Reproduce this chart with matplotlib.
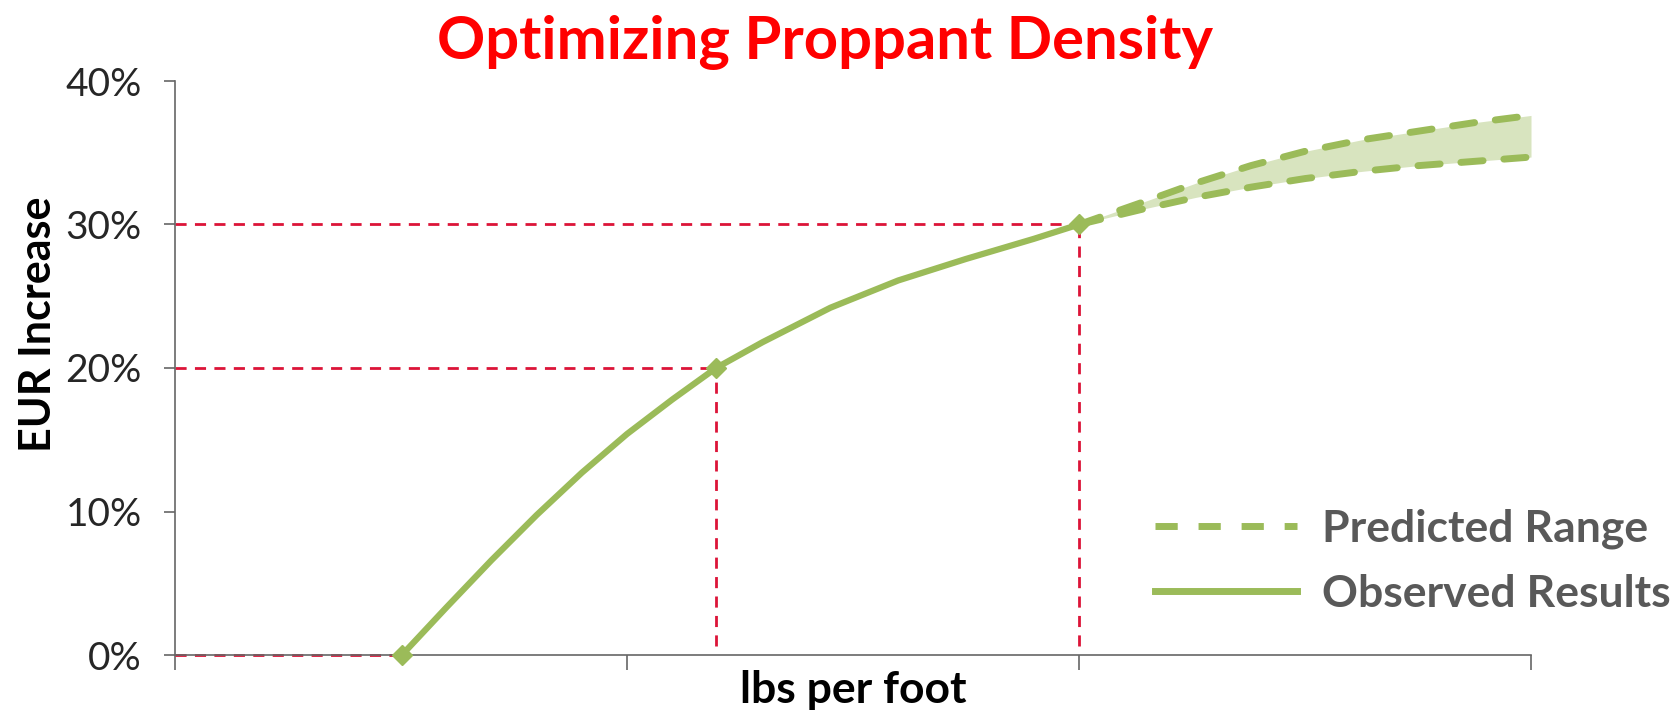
import matplotlib
matplotlib.use("Agg")
import matplotlib.pyplot as plt
from matplotlib.lines import Line2D
from matplotlib.ticker import PercentFormatter

plt.rcParams['font.family'] = ['Lato', 'DejaVu Sans']

# data (x in tick units, y in %)
obs_x = [0.502, 0.6, 0.7, 0.8, 0.9, 1.0, 1.1, 1.197, 1.3, 1.45, 1.6, 1.75, 1.9, 2.0]
obs_y = [0, 3.3, 6.6, 9.75, 12.7, 15.4, 17.8, 20, 21.8, 24.2, 26.1, 27.6, 29.0, 30]

key_x = [0.502, 1.197, 2.0]
key_y = [0, 20, 30]

pred_x = [2.0, 2.145, 2.26, 2.38, 2.5, 2.625, 2.75, 2.875, 3.0]
pred_hi = [30, 31.6, 32.9, 34.1, 35.1, 35.9, 36.5, 37.1, 37.6]
pred_lo = [30, 31.1, 31.9, 32.6, 33.2, 33.7, 34.1, 34.4, 34.7]

y_ticks = [0, 10, 20, 30, 40]
x_ticks = [0, 1, 2, 3]

GREEN = '#9BBB59'
FILL = '#D8E4BF'
RED = '#DC1438'
DASH = (0, (3.2, 3.0))

W, H = 1678, 711
fig = plt.figure(figsize=(W / 100, H / 100), dpi=100)
ax = fig.add_axes([175 / W, 1 - 655 / H, (1531 - 175) / W, (655 - 81) / H])

# predicted range
ax.fill_between(pred_x, pred_lo, pred_hi, color=FILL, lw=0, zorder=1)
ax.plot(pred_x, pred_hi, color=GREEN, lw=5, ls=DASH, dash_capstyle='round', zorder=3, clip_on=False)
ax.plot(pred_x, pred_lo, color=GREEN, lw=5, ls=DASH, dash_capstyle='round', zorder=3, clip_on=False)

# red guide lines
for gx, gy in zip(key_x, key_y):
    ax.plot([0, gx], [gy, gy], color=RED, lw=2, ls=(0, (4, 3)), zorder=2, clip_on=False)
    if gy > 0:
        ax.plot([gx, gx], [0.6, gy], color=RED, lw=2, ls=(0, (4, 3)), zorder=2)

# observed results
ax.plot(obs_x, obs_y, color=GREEN, lw=4.5, solid_capstyle='round', solid_joinstyle='round',
        zorder=4, clip_on=False)
ax.plot(key_x, key_y, ls='none', marker='D', ms=10, color=GREEN, zorder=5, clip_on=False)

ax.set_xlim(0, 3)
ax.set_ylim(0, 40)
ax.set_xticks(x_ticks)
ax.set_xticklabels([])
ax.set_yticks(y_ticks)
ax.yaxis.set_major_formatter(PercentFormatter(decimals=0))
for s in ['top', 'right']:
    ax.spines[s].set_visible(False)
for s in ['left', 'bottom']:
    ax.spines[s].set_color('#666666')
    ax.spines[s].set_linewidth(1.2)
ax.tick_params(axis='y', length=8, width=1.2, color='#666666', pad=16, labelsize=28, labelcolor='#262626')
ax.tick_params(axis='x', length=11, width=1.2, color='#666666')

fig.text(825 / W, 1 - 43 / H, 'Optimizing Proppant Density', ha='center', va='center',
         color='#FF0000', fontsize=43, fontweight='bold')
fig.text(853 / W, 1 - 690 / H, 'lbs per foot', ha='center', va='center', fontsize=32, fontweight='bold')
fig.text(38 / W, 1 - 324 / H, 'EUR Increase', ha='center', va='center', rotation=90,
         fontsize=31, fontweight='bold')

handles = [Line2D([], [], color=GREEN, lw=5, ls=DASH),
           Line2D([], [], color=GREEN, lw=5)]
leg = fig.legend(handles, ['Predicted Range', 'Observed Results'], loc='center left',
                 bbox_to_anchor=(1155 / W, 1 - 561 / H), frameon=False, fontsize=32,
                 borderaxespad=0, borderpad=0,
                 handlelength=3.2, handletextpad=0.55, labelspacing=0.56)
for t in leg.get_texts():
    t.set_color('#595959')
    t.set_fontweight('bold')

fig.savefig('out.png', dpi=100)
